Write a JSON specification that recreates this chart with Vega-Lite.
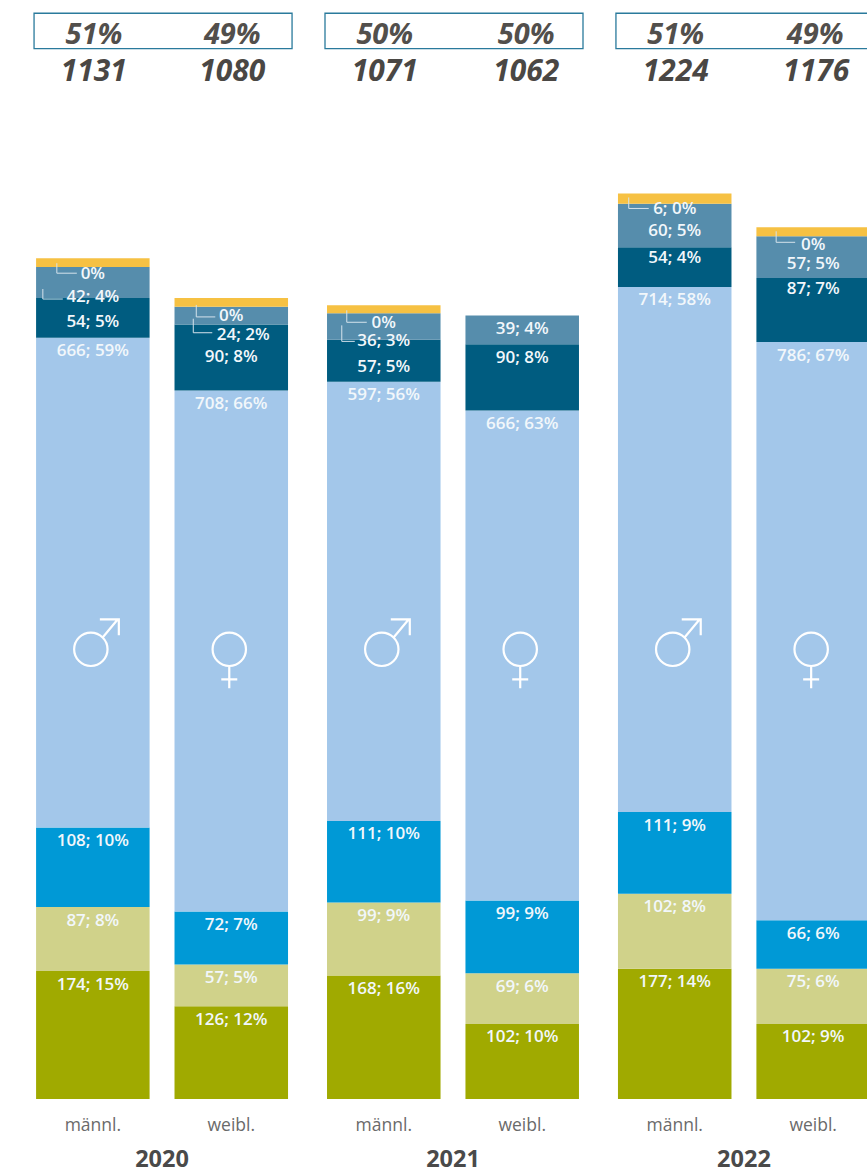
{
"$schema":"https://vega.github.io/schema/vega-lite/v6.json",
"width":867,"height":1099,"autosize":"none",
"padding":{"left":0,"top":0,"right":0,"bottom":74},
"background":"white",
"config":{"view":{"stroke":null},"font":"Open Sans"},
"datasets":{
"bars":[
{"year":"2020","sex":"männl.","id":"2020m1","order":1,"value":174,"label":"174; 15%"},
{"year":"2020","sex":"männl.","id":"2020m2","order":2,"value":87,"label":"87; 8%"},
{"year":"2020","sex":"männl.","id":"2020m3","order":3,"value":108,"label":"108; 10%"},
{"year":"2020","sex":"männl.","id":"2020m4","order":4,"value":666,"label":"666; 59%"},
{"year":"2020","sex":"männl.","id":"2020m5","order":5,"value":54,"label":"54; 5%"},
{"year":"2020","sex":"männl.","id":"2020m6","order":6,"value":42,"label":"42; 4%"},
{"year":"2020","sex":"männl.","id":"2020m7","order":7,"value":12,"label":"0%"},
{"year":"2020","sex":"weibl.","id":"2020w1","order":1,"value":126,"label":"126; 12%"},
{"year":"2020","sex":"weibl.","id":"2020w2","order":2,"value":57,"label":"57; 5%"},
{"year":"2020","sex":"weibl.","id":"2020w3","order":3,"value":72,"label":"72; 7%"},
{"year":"2020","sex":"weibl.","id":"2020w4","order":4,"value":708,"label":"708; 66%"},
{"year":"2020","sex":"weibl.","id":"2020w5","order":5,"value":90,"label":"90; 8%"},
{"year":"2020","sex":"weibl.","id":"2020w6","order":6,"value":24,"label":"24; 2%"},
{"year":"2020","sex":"weibl.","id":"2020w7","order":7,"value":12,"label":"0%"},
{"year":"2021","sex":"männl.","id":"2021m1","order":1,"value":168,"label":"168; 16%"},
{"year":"2021","sex":"männl.","id":"2021m2","order":2,"value":99,"label":"99; 9%"},
{"year":"2021","sex":"männl.","id":"2021m3","order":3,"value":111,"label":"111; 10%"},
{"year":"2021","sex":"männl.","id":"2021m4","order":4,"value":597,"label":"597; 56%"},
{"year":"2021","sex":"männl.","id":"2021m5","order":5,"value":57,"label":"57; 5%"},
{"year":"2021","sex":"männl.","id":"2021m6","order":6,"value":36,"label":"36; 3%"},
{"year":"2021","sex":"männl.","id":"2021m7","order":7,"value":11,"label":"0%"},
{"year":"2021","sex":"weibl.","id":"2021w1","order":1,"value":102,"label":"102; 10%"},
{"year":"2021","sex":"weibl.","id":"2021w2","order":2,"value":69,"label":"69; 6%"},
{"year":"2021","sex":"weibl.","id":"2021w3","order":3,"value":99,"label":"99; 9%"},
{"year":"2021","sex":"weibl.","id":"2021w4","order":4,"value":666,"label":"666; 63%"},
{"year":"2021","sex":"weibl.","id":"2021w5","order":5,"value":90,"label":"90; 8%"},
{"year":"2021","sex":"weibl.","id":"2021w6","order":6,"value":39,"label":"39; 4%"},
{"year":"2022","sex":"männl.","id":"2022m1","order":1,"value":177,"label":"177; 14%"},
{"year":"2022","sex":"männl.","id":"2022m2","order":2,"value":102,"label":"102; 8%"},
{"year":"2022","sex":"männl.","id":"2022m3","order":3,"value":111,"label":"111; 9%"},
{"year":"2022","sex":"männl.","id":"2022m4","order":4,"value":714,"label":"714; 58%"},
{"year":"2022","sex":"männl.","id":"2022m5","order":5,"value":54,"label":"54; 4%"},
{"year":"2022","sex":"männl.","id":"2022m6","order":6,"value":59,"label":"60; 5%"},
{"year":"2022","sex":"männl.","id":"2022m7","order":7,"value":14,"label":"6; 0%"},
{"year":"2022","sex":"weibl.","id":"2022w1","order":1,"value":102,"label":"102; 9%"},
{"year":"2022","sex":"weibl.","id":"2022w2","order":2,"value":75,"label":"75; 6%"},
{"year":"2022","sex":"weibl.","id":"2022w3","order":3,"value":66,"label":"66; 6%"},
{"year":"2022","sex":"weibl.","id":"2022w4","order":4,"value":786,"label":"786; 67%"},
{"year":"2022","sex":"weibl.","id":"2022w5","order":5,"value":87,"label":"87; 7%"},
{"year":"2022","sex":"weibl.","id":"2022w6","order":6,"value":57,"label":"57; 5%"},
{"year":"2022","sex":"weibl.","id":"2022w7","order":7,"value":12,"label":"0%"}
],
"totals":[
{"year":"2020","sex":"männl.","id":"2020m","share":"51%","total":"1131"},
{"year":"2020","sex":"weibl.","id":"2020w","share":"49%","total":"1080"},
{"year":"2021","sex":"männl.","id":"2021m","share":"50%","total":"1071"},
{"year":"2021","sex":"weibl.","id":"2021w","share":"50%","total":"1062"},
{"year":"2022","sex":"männl.","id":"2022m","share":"51%","total":"1224"},
{"year":"2022","sex":"weibl.","id":"2022w","share":"49%","total":"1176"}
],
"years":[{"year":"2020"},{"year":"2021"},{"year":"2022"}]
},
"encoding":{
"x":{"field":"year","type":"nominal","scale":{"domain":["2020","2021","2022"],"range":[0,906],"paddingInner":0.134,"paddingOuter":0.124},
"axis":{"title":null,"domain":false,"ticks":false,"labelAngle":0,"labelFont":"Open Sans","labelFontSize":23.5,"labelFontWeight":"bold","labelColor":"#4a4a4a","labelPadding":48}}
},
"layer":[
{"data":{"name":"years"},
"mark":{"type":"bar","width":258,"xOffset":1,"fill":"white","stroke":"#2a7a9c","strokeWidth":1.3},
"encoding":{"y":{"datum":1476,"type":"quantitative","scale":{"domain":[0,1494],"nice":false,"zero":false},"axis":null},"y2":{"datum":1428}}},
{"data":{"name":"bars"},
"transform":[{"stack":"value","groupby":["year","sex"],"sort":[{"field":"order","order":"ascending"}],"as":["y0","y1"]}],
"encoding":{"xOffset":{"field":"sex","type":"nominal","scale":{"domain":["männl.","weibl."],"paddingInner":0.18,"paddingOuter":0}},
"y":{"field":"y1","type":"quantitative","axis":null}},
"layer":[
{"mark":{"type":"bar"},"encoding":{"y2":{"field":"y0"},
"color":{"field":"order","type":"nominal","legend":null,"scale":{"domain":[1,2,3,4,5,6,7],"range":["#a0aa00","#d0d28a","#0099d6","#a3c7ea","#005c80","#568dac","#f6c143"]}}}},
{"transform":[{"filter":{"field":"id","oneOf":["2020m7","2020m6","2020w7","2020w6","2021m7","2021m6","2022m7","2022w7"]}}],
"mark":{"type":"point","filled":false,"fill":"transparent","stroke":"#d5e3ec","strokeWidth":1,"opacity":1,"size":4},
"encoding":{"shape":{"field":"id","type":"nominal","legend":null,"scale":{"domain":["2020m7","2020m6","2020w7","2020w6","2021m7","2021m6","2022m7","2022w7","männl.","weibl."],
"range":["M-36,5L-36,15L-16,15","M-50,22L-50,32L-30,32","M-35,7L-35,19L-16,19","M-38,12L-38,26L-19,26","M-37,5L-37,17L-17,17","M-42,12L-42,28L-29,28","M-46,4L-46,15L-26,15","M-37,4L-37,15L-18,15","M14.7,-1A16.7,16.7 0 1 1 -18.7,-1A16.7,16.7 0 1 1 14.7,-1ZM10,-13L25,-31M7,-31L26,-31L26,-15","M14.7,-1A16.7,16.7 0 1 1 -18.7,-1A16.7,16.7 0 1 1 14.7,-1ZM-2,16L-2,38M-10,29L6,29"]}}}},
{"transform":[{"filter":{"not":{"field":"id","oneOf":["2020m7","2022m7","2020w7","2021m7","2022w7","2020m5","2021m5","2021m6","2022m6","2022w6","2020m6","2020w5","2020w6","2022m5","2022w5"]}}}],
"mark":{"type":"text","dy":13.5,"font":"Open Sans","fontSize":17,"fontWeight":600,"color":"#f2f7fb"},"encoding":{"text":{"field":"label"}}},
{"transform":[{"filter":{"field":"id","oneOf":["2022m5","2022w5"]}}],
"mark":{"type":"text","dy":11,"font":"Open Sans","fontSize":17,"fontWeight":600,"color":"#f2f7fb"},"encoding":{"text":{"field":"label"}}},
{"transform":[{"filter":{"field":"id","oneOf":["2020m7","2022m7"]}}],
"mark":{"type":"text","dy":16,"font":"Open Sans","fontSize":17,"fontWeight":600,"color":"#f2f7fb"},"encoding":{"text":{"field":"label"}}},
{"transform":[{"filter":{"field":"id","oneOf":["2020w7","2021m7","2022w7"]}}],
"mark":{"type":"text","dy":18,"font":"Open Sans","fontSize":17,"fontWeight":600,"color":"#f2f7fb"},"encoding":{"text":{"field":"label"}}},
{"transform":[{"filter":{"field":"id","oneOf":["2020m5"]}}],
"mark":{"type":"text","dy":24,"font":"Open Sans","fontSize":17,"fontWeight":600,"color":"#f2f7fb"},"encoding":{"text":{"field":"label"}}},
{"transform":[{"filter":{"field":"id","oneOf":["2021m5","2021m6","2022m6","2022w6"]}}],
"mark":{"type":"text","dy":27.5,"font":"Open Sans","fontSize":17,"fontWeight":600,"color":"#f2f7fb"},"encoding":{"text":{"field":"label"}}},
{"transform":[{"filter":{"field":"id","oneOf":["2020m6"]}}],
"mark":{"type":"text","dy":30,"font":"Open Sans","fontSize":17,"fontWeight":600,"color":"#f2f7fb"},"encoding":{"text":{"field":"label"}}},
{"transform":[{"filter":{"field":"id","oneOf":["2020w5"]}}],
"mark":{"type":"text","dy":33,"font":"Open Sans","fontSize":17,"fontWeight":600,"color":"#f2f7fb"},"encoding":{"text":{"field":"label"}}},
{"transform":[{"filter":{"field":"id","oneOf":["2020w6"]}}],
"mark":{"type":"text","dy":28,"dx":12,"font":"Open Sans","fontSize":17,"fontWeight":600,"color":"#f2f7fb"},"encoding":{"text":{"field":"label"}}}
]},
{"data":{"name":"totals"},
"encoding":{"xOffset":{"field":"sex","type":"nominal","scale":{"domain":["männl.","weibl."],"paddingInner":0.18,"paddingOuter":0}}},
"layer":[
{"mark":{"type":"point","filled":false,"fill":"transparent","stroke":"white","strokeWidth":2.2,"opacity":1,"size":4},
"encoding":{"y":{"datum":610,"type":"quantitative"},
"shape":{"field":"sex","type":"nominal","legend":null,"scale":{"domain":["2020m7","2020m6","2020w7","2020w6","2021m7","2021m6","2022m7","2022w7","männl.","weibl."],
"range":["M-36,5L-36,15L-16,15","M-50,22L-50,32L-30,32","M-35,7L-35,19L-16,19","M-38,12L-38,26L-19,26","M-37,5L-37,17L-17,17","M-42,12L-42,28L-29,28","M-46,4L-46,15L-26,15","M-37,4L-37,15L-18,15","M14.7,-1A16.7,16.7 0 1 1 -18.7,-1A16.7,16.7 0 1 1 14.7,-1ZM10,-13L25,-31M7,-31L26,-31L26,-15","M14.7,-1A16.7,16.7 0 1 1 -18.7,-1A16.7,16.7 0 1 1 14.7,-1ZM-2,16L-2,38M-10,29L6,29"]}}}},
{"mark":{"type":"text","dy":27,"font":"Open Sans","fontSize":17.5,"color":"#6a6a6a"},
"encoding":{"y":{"datum":0,"type":"quantitative"},"text":{"field":"sex"}}},
{"transform":[{"filter":{"not":{"field":"id","oneOf":["2021w","2022w"]}}}],
"mark":{"type":"text","dx":1,"font":"Open Sans","fontSize":29,"fontStyle":"italic","fontWeight":700,"color":"#524f4c"},
"encoding":{"y":{"datum":1446.5,"type":"quantitative"},"text":{"field":"share"}}},
{"transform":[{"filter":{"field":"id","equal":"2021w"}}],
"mark":{"type":"text","dx":4,"font":"Open Sans","fontSize":29,"fontStyle":"italic","fontWeight":700,"color":"#524f4c"},
"encoding":{"y":{"datum":1446.5,"type":"quantitative"},"text":{"field":"share"}}},
{"transform":[{"filter":{"field":"id","equal":"2022w"}}],
"mark":{"type":"text","dx":2,"font":"Open Sans","fontSize":29,"fontStyle":"italic","fontWeight":700,"color":"#524f4c"},
"encoding":{"y":{"datum":1446.5,"type":"quantitative"},"text":{"field":"share"}}},
{"transform":[{"filter":{"not":{"field":"id","oneOf":["2021w","2022w"]}}}],
"mark":{"type":"text","dx":1,"font":"Open Sans","fontSize":30,"fontStyle":"italic","fontWeight":700,"color":"#4a4744"},
"encoding":{"y":{"datum":1395.5,"type":"quantitative"},"text":{"field":"total"}}},
{"transform":[{"filter":{"field":"id","equal":"2021w"}}],
"mark":{"type":"text","dx":4,"font":"Open Sans","fontSize":30,"fontStyle":"italic","fontWeight":700,"color":"#4a4744"},
"encoding":{"y":{"datum":1395.5,"type":"quantitative"},"text":{"field":"total"}}},
{"transform":[{"filter":{"field":"id","equal":"2022w"}}],
"mark":{"type":"text","dx":3,"font":"Open Sans","fontSize":30,"fontStyle":"italic","fontWeight":700,"color":"#4a4744"},
"encoding":{"y":{"datum":1395.5,"type":"quantitative"},"text":{"field":"total"}}}
]}
]
}
